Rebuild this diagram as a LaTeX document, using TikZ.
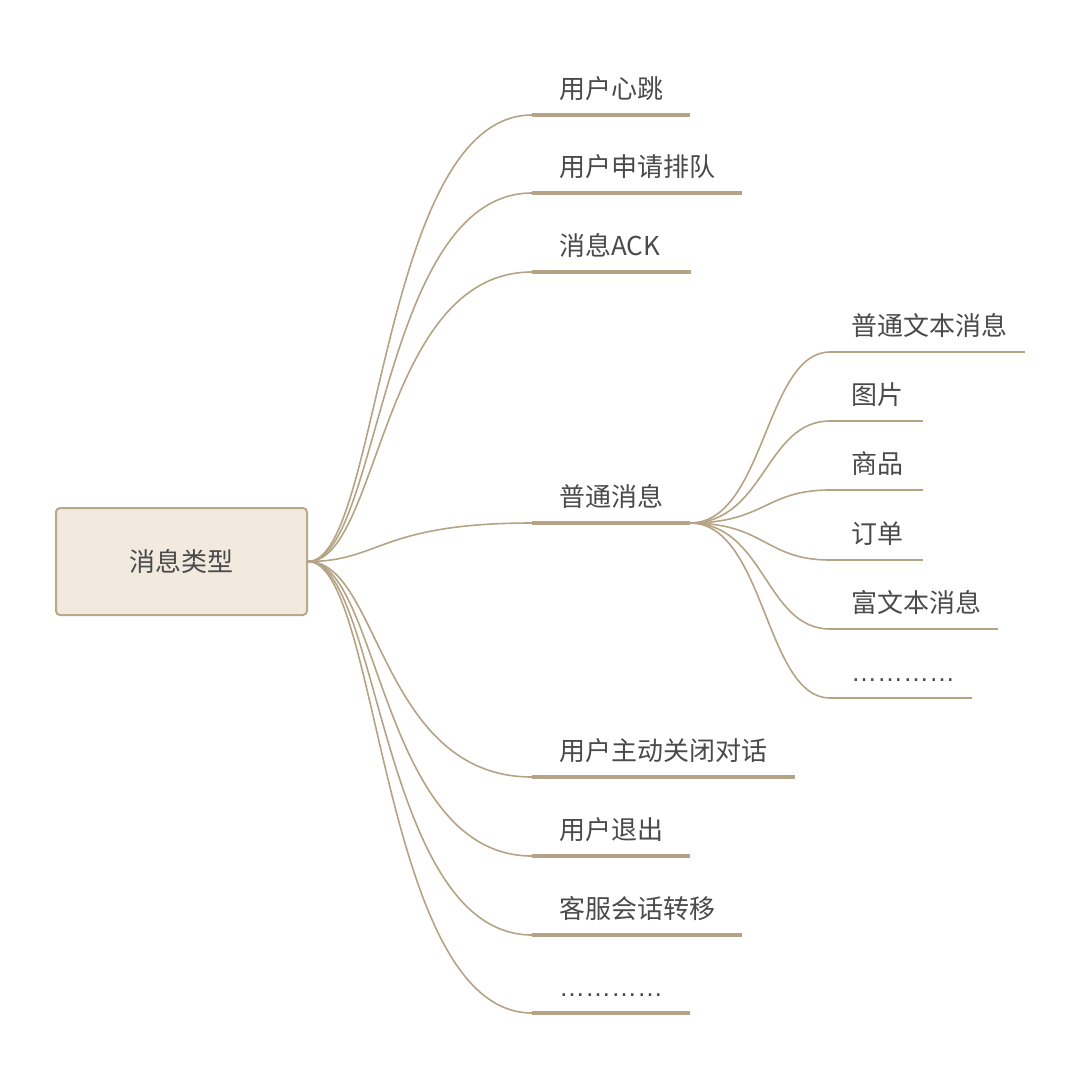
\documentclass[tikz,border=0pt]{standalone}
\usepackage{fontspec}
\setmainfont{Noto Sans CJK SC}
\newfontfamily\dotsfont{Liberation Sans}
\definecolor{ln}{HTML}{B4A384}
\definecolor{rootfill}{HTML}{F2EADE}
\definecolor{rootdraw}{HTML}{B9A98B}
\definecolor{txt}{HTML}{4A4A4A}
\tikzset{
  rootbox/.style={draw=rootdraw, line width=2pt, fill=rootfill, rounded corners=4pt,
    minimum width=251pt, minimum height=107pt, inner sep=0pt, text=txt,
    font=\fontsize{26pt}{30pt}\selectfont},
  lbl/.style={anchor=base west, inner sep=0pt, text=txt, font=\fontsize{26pt}{30pt}\selectfont},
  branch/.style={draw=ln, line width=1.6pt},
  ulone/.style={draw=ln, line width=3.2pt},
  ultwo/.style={draw=ln, line width=2pt},
}
\begin{document}
\begin{tikzpicture}[x=1pt,y=-1pt]
\useasboundingbox (0,0) rectangle (1080,1071);
\node[rootbox] (root) at (181.5,561.5) {消息类型};
\coordinate (ka) at (380,561.5);
% level 1
\foreach \n/\yy/\ee/\tt in {
  a/115/690/用户心跳,
  b/193/742/用户申请排队,
  c/272/691/消息ACK,
  d/523/690/普通消息,
  e/777/795/用户主动关闭对话,
  f/856/690/用户退出,
  g/935/742/客服会话转移,
  h/1013/690/{{\dotsfont …………}}}{
  \coordinate (s\n) at (532,\yy);
  \coordinate (e\n) at (\ee,\yy);
  \node[lbl] (t\n) at (559,\yy-17) {\tt};
  \draw[branch] (root.east) .. controls (ka) and (ka |- s\n) .. (s\n);
  \draw[ulone] (s\n) -- (e\n);
}
% level 2
\coordinate (kb) at (765,523);
\foreach \n/\yy/\ee/\tt in {
  p/352/1025/普通文本消息,
  q/421/923/图片,
  r/490/923/商品,
  s/560/923/订单,
  t/629/998/富文本消息,
  u/698/972/{{\dotsfont …………}}}{
  \coordinate (s\n) at (830,\yy);
  \coordinate (e\n) at (\ee,\yy);
  \node[lbl] (t\n) at (851,\yy-17) {\tt};
  \draw[branch] (ed) .. controls (kb) and (kb |- s\n) .. (s\n);
  \draw[ultwo] (s\n) -- (e\n);
}
\end{tikzpicture}
\end{document}
